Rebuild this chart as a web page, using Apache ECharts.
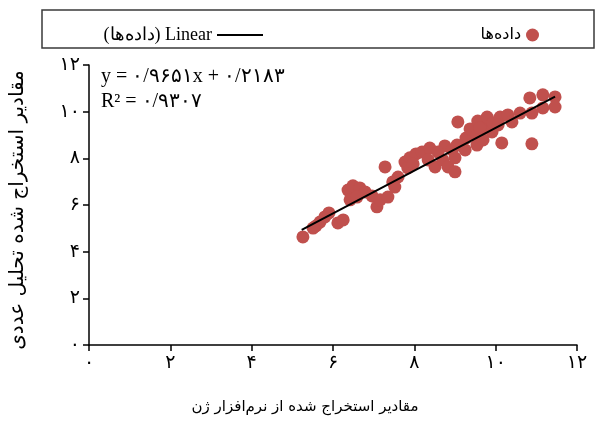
<!DOCTYPE html>
<html><head><meta charset="utf-8">
<script src="https://cdn.jsdelivr.net/npm/echarts@6/dist/echarts.min.js"></script>
<style>html,body{margin:0;padding:0;background:#fff}#c{width:605px;height:421px}</style>
</head><body><div id="c"></div>
<script>
// ---- data ----
const xVals = [5.26,5.58,5.68,5.80,5.90,5.51,6.12,6.25,6.37,6.49,6.66,6.79,6.42,6.59,6.96,7.08,7.16,7.35,7.28,7.47,7.60,7.52,
  7.77,7.89,8.04,8.19,8.38,7.84,7.97,8.51,8.70,8.83,9.00,9.00,8.75,8.58,8.34,8.93,
  9.07,9.27,9.37,9.54,9.56,9.74,9.79,9.91,9.93,10.11,10.30,10.40,10.60,10.84,10.89,11.16,11.16,11.46,11.46,
  10.15,10.89,9.54,9.05,9.69,9.25,10.06,9.61];
const yVals = [4.63,5.10,5.27,5.49,5.66,5.01,5.23,5.36,6.64,6.82,6.73,6.56,6.22,6.34,6.39,5.92,6.22,6.34,7.63,6.99,7.20,6.77,
  7.84,8.02,8.19,8.27,8.44,7.59,7.76,7.63,7.93,7.63,7.42,8.02,8.53,8.27,7.93,8.36,
  9.56,8.87,9.26,9.00,9.60,9.30,9.77,9.13,9.52,9.77,9.86,9.56,9.94,10.59,9.94,10.72,10.16,10.63,10.20,
  8.66,8.62,8.57,8.57,8.79,8.36,9.43,9.30];
const trendX = [5.23, 11.46];
const trendY = [4.93, 10.64];
const xTicks = [0, 2, 4, 6, 8, 10, 12];
const yTicks = [0, 2, 4, 6, 8, 10, 12];
const seriesName = 'داده‌ها';
const trendName = '(داده‌ها) Linear';
const eqLine1 = 'y = ۰/۹۶۵۱x + ۰/۲۱۸۳';
const eqLine2 = 'R² = ۰/۹۳۰۷';
const xTitle = 'مقادیر استخراج شده از نرم‌افزار ژن';
const yTitle = 'مقادیر استخراج شده تحلیل عددی';

const fa = s => String(s).replace(/[0-9]/g, d => '۰۱۲۳۴۵۶۷۸۹'[d]);
const faFont = '"DejaVu Sans", sans-serif';
const serifFont = '"Liberation Serif", "DejaVu Serif", serif';

const chart = echarts.init(document.getElementById('c'), null, {renderer: 'canvas'});
const axisCommon = {
  type: 'value', min: xTicks[0], max: xTicks[xTicks.length - 1], interval: xTicks[1] - xTicks[0],
  axisLine: {show: true, onZero: false, lineStyle: {color: '#000', width: 1.5}},
  axisTick: {show: true, inside: false, length: 6, lineStyle: {color: '#000', width: 1.5}},
  splitLine: {show: false},
  axisLabel: {formatter: v => fa(v), color: '#000', fontFamily: faFont, fontSize: 19, margin: 9}
};
chart.setOption({
  animation: false,
  backgroundColor: '#fff',
  grid: {left: 89, right: 28, top: 65, bottom: 76, containLabel: false},
  xAxis: Object.assign({}, axisCommon),
  yAxis: Object.assign({}, axisCommon, {min: yTicks[0], max: yTicks[yTicks.length - 1], interval: yTicks[1] - yTicks[0]}),
  legend: [
    {data: [{name: trendName, icon: 'rect', itemStyle: {color: '#000'}}], right: 337, top: 21, align: 'right',
     itemWidth: 46, itemHeight: 2, itemGap: 6,
     textStyle: {fontFamily: serifFont, fontSize: 18, color: '#000'}},
    {data: [seriesName], right: 61, top: 22, align: 'right', itemWidth: 13, itemHeight: 13, itemGap: 6,
     textStyle: {fontFamily: faFont, fontSize: 16, color: '#000'}}
  ],
  graphic: [
    {type: 'rect', shape: {x: 42, y: 10, width: 552, height: 38}, style: {fill: 'none', stroke: '#3a3a3a', lineWidth: 1.5}, silent: true},
    {type: 'text', x: 101, y: 77, style: {text: eqLine1, font: '20px ' + serifFont, fill: '#000', align: 'left', verticalAlign: 'middle'}},
    {type: 'text', x: 101, y: 102, style: {text: eqLine2, font: '20px ' + serifFont, fill: '#000', align: 'left', verticalAlign: 'middle'}},
    {type: 'text', x: 305, y: 407, style: {text: xTitle, font: '15px ' + faFont, fill: '#000', align: 'center', verticalAlign: 'middle'}},
    {type: 'text', x: 18, y: 210, rotation: Math.PI / 2, style: {text: yTitle, font: '20px ' + faFont, fill: '#000', align: 'center', verticalAlign: 'middle'}}
  ],
  series: [
    {name: seriesName, type: 'scatter', symbol: 'circle', symbolSize: 13,
     itemStyle: {color: '#c0504d', opacity: 1},
     data: xVals.map((x, i) => [x, yVals[i]]), z: 2},
    {name: trendName, type: 'line', symbol: 'none', lineStyle: {color: '#000', width: 2},
     itemStyle: {color: '#000'},
     data: trendX.map((x, i) => [x, trendY[i]]), z: 3}
  ]
});
</script></body></html>
